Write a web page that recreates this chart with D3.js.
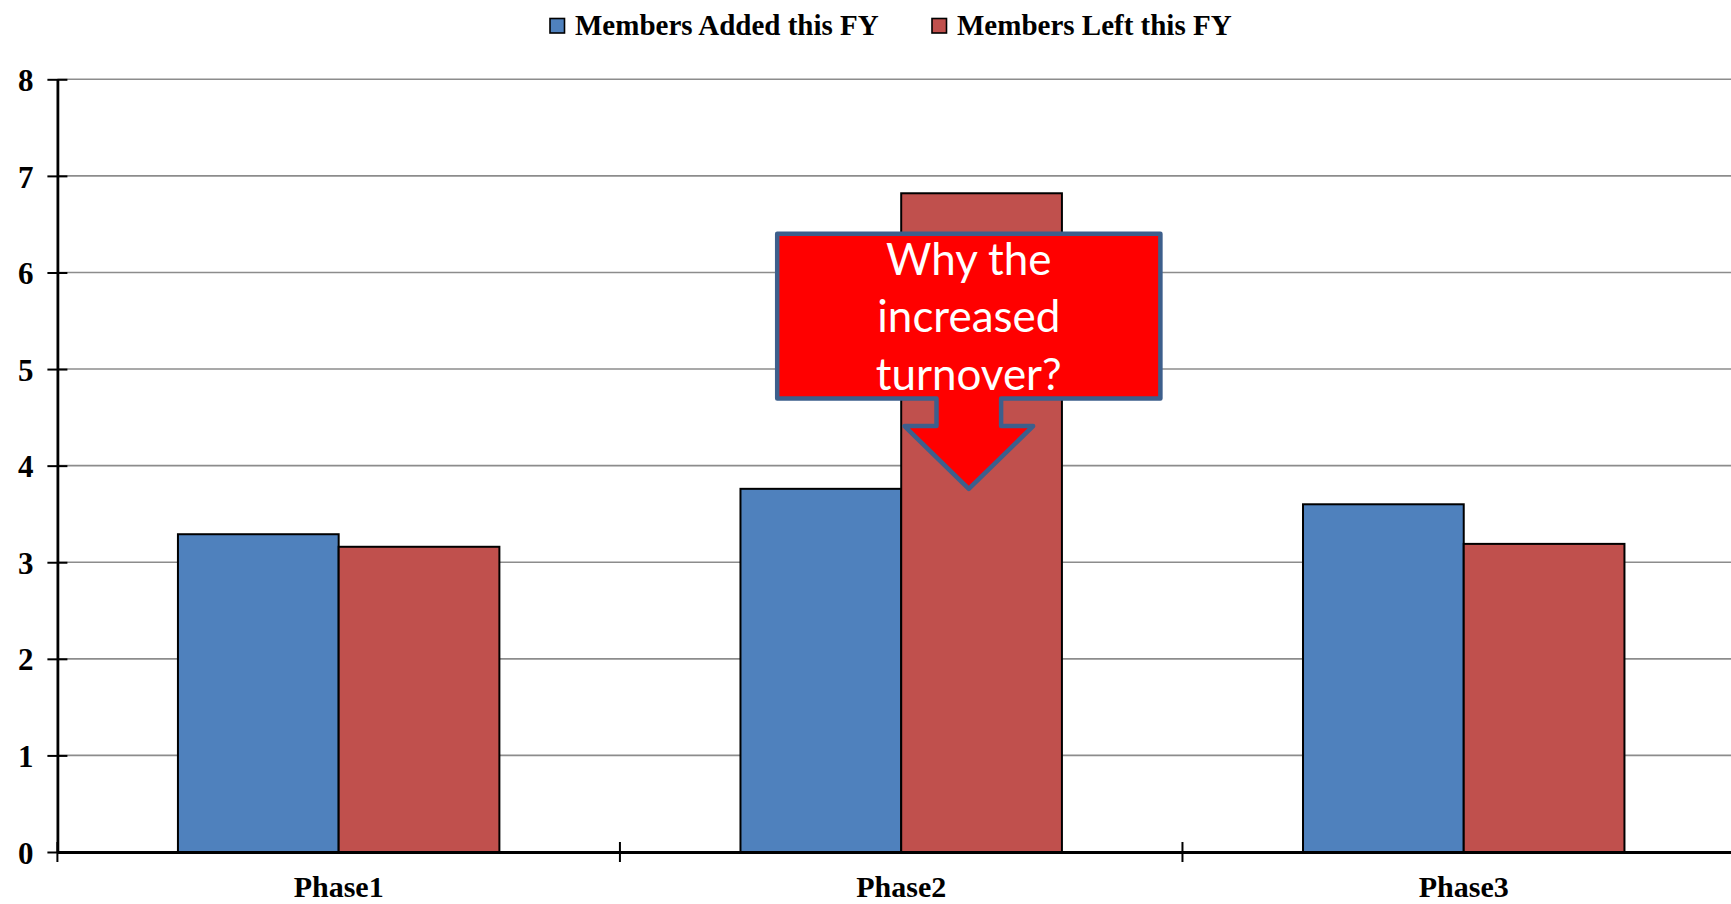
<!DOCTYPE html>
<html>
<head>
<meta charset="utf-8">
<script src="https://cdn.jsdelivr.net/npm/d3@7"></script>
<style>
  html, body { margin: 0; padding: 0; background: #ffffff; }
  svg { display: block; }
</style>
</head>
<body>
<div id="chart"></div>
<script>
// ---- data ----
const categories = ["Phase1", "Phase2", "Phase3"];
const seriesNames = ["Members Added this FY", "Members Left this FY"];
const addedValues = [3.29, 3.76, 3.60];
const leftValues = [3.16, 6.82, 3.19];
const yTickValues = [0, 1, 2, 3, 4, 5, 6, 7, 8];
const calloutLines = ["Why the", "increased", "turnover?"];
const seriesColors = ["#4f81bd", "#c0504d"];

// ---- layout ----
const W = 1731, H = 904;
const plotLeft = 57.4, plotRight = 1745, plotBottom = 852, plotTop = 79.3;

const svg = d3.select("#chart").append("svg")
  .attr("width", W).attr("height", H)
  .style("background", "#fff");

const x = d3.scaleBand().domain(categories).range([plotLeft, plotRight]).paddingInner(0).paddingOuter(0);
const xs = d3.scaleBand().domain(seriesNames).range([0, x.bandwidth()]).paddingInner(0).paddingOuter(0.75);
const y = d3.scaleLinear().domain([0, 8]).range([plotBottom, plotTop]);

const rows = categories.map((c, i) => ({ cat: c, vals: [addedValues[i], leftValues[i]] }));

// gridlines
svg.append("g").selectAll("line").data(yTickValues.filter(v => v > 0)).join("line")
  .attr("x1", plotLeft).attr("x2", W)
  .attr("y1", d => y(d)).attr("y2", d => y(d))
  .attr("stroke", "#8c8c8c").attr("stroke-width", 1.6);

// bars
const groups = svg.append("g").selectAll("g").data(rows).join("g")
  .attr("transform", d => `translate(${x(d.cat)},0)`);
groups.selectAll("rect").data(d => d.vals.map((v, j) => ({ v, s: seriesNames[j], j }))).join("rect")
  .attr("x", d => xs(d.s))
  .attr("width", xs.bandwidth())
  .attr("y", d => y(d.v))
  .attr("height", d => y(0) - y(d.v))
  .attr("fill", d => seriesColors[d.j])
  .attr("stroke", "#000").attr("stroke-width", 2);

// y axis
const yAxis = d3.axisLeft(y).tickValues(yTickValues).tickSize(10).tickSizeOuter(0).tickPadding(15)
  .tickFormat(d3.format("d"));
const gy = svg.append("g").attr("transform", `translate(${plotLeft},0)`).call(yAxis);
gy.select(".domain").attr("stroke", "#000").attr("stroke-width", 2.8);
gy.selectAll(".tick line").attr("x1", -10).attr("x2", 10).attr("stroke", "#000").attr("stroke-width", 2);
gy.selectAll(".tick text")
  .attr("font-family", "'Liberation Serif', 'Times New Roman', serif")
  .attr("font-weight", "bold").attr("font-size", 31).attr("fill", "#000")
  .attr("x", -24).attr("dy", "0.36em");

// x axis
const xAxis = d3.axisBottom(x).tickSize(0).tickSizeOuter(0);
const gx = svg.append("g").attr("transform", `translate(0,${plotBottom})`).call(xAxis);
gx.select(".domain").attr("stroke", "#000").attr("stroke-width", 2.8);
gx.selectAll(".tick text")
  .attr("font-family", "'Liberation Serif', 'Times New Roman', serif")
  .attr("font-weight", "bold").attr("font-size", 30).attr("fill", "#000")
  .attr("y", 45).attr("dy", 0);
// boundary ticks (crossing)
const boundaries = categories.map(c => x(c)).concat([x.range()[1]]);
gx.append("g").selectAll("line").data(boundaries).join("line")
  .attr("x1", d => d).attr("x2", d => d).attr("y1", -10).attr("y2", 10)
  .attr("stroke", "#000").attr("stroke-width", 2);

// ---- callout annotation ----
const cx = x("Phase2") + x.bandwidth() * 0.5 + 67.6;
const rectL = cx - 191.6, rectR = cx + 191.6;
const rectT = y(6.4), rectB = y(4.695);
const stemHalf = 32.3, headHalf = 64.3;
const headT = y(4.41), tipY = y(addedValues[1]);
const p = d3.path();
p.moveTo(rectL, rectT);
p.lineTo(rectR, rectT);
p.lineTo(rectR, rectB);
p.lineTo(cx + stemHalf, rectB);
p.lineTo(cx + stemHalf, headT);
p.lineTo(cx + headHalf, headT);
p.lineTo(cx, tipY);
p.lineTo(cx - headHalf, headT);
p.lineTo(cx - stemHalf, headT);
p.lineTo(cx - stemHalf, rectB);
p.lineTo(rectL, rectB);
p.closePath();
svg.append("path").attr("d", p.toString())
  .attr("fill", "#ff0000").attr("stroke", "#3d5f8c").attr("stroke-width", 4.5)
  .attr("stroke-linejoin", "round");

const ct = svg.append("g");
const baselines = [275, 331.7, 390];
const ctexts = ct.selectAll("text").data(calloutLines).join("text")
  .attr("x", cx).attr("y", (d, i) => baselines[i])
  .attr("text-anchor", "middle")
  .attr("font-family", "Lato, 'Open Sans', sans-serif")
  .attr("font-size", 47).attr("fill", "#fff")
  .text(d => d);
// fit font to the reference width of "increased" (~183px)
const measured = ctexts.filter((d, i) => i === 1).node().getComputedTextLength();
if (measured > 0) ctexts.attr("font-size", 47 * 183 / measured);

// ---- legend ----
const legendItems = [
  { name: seriesNames[0], color: seriesColors[0], sx: 550, tx: 575 },
  { name: seriesNames[1], color: seriesColors[1], sx: 932, tx: 957 }
];
const lg = svg.append("g");
lg.selectAll("rect").data(legendItems).join("rect")
  .attr("x", d => d.sx).attr("y", 18.5).attr("width", 14.5).attr("height", 14.5)
  .attr("fill", d => d.color).attr("stroke", "#000").attr("stroke-width", 1.6);
lg.selectAll("text").data(legendItems).join("text")
  .attr("x", d => d.tx).attr("y", 35)
  .attr("font-family", "'Liberation Serif', 'Times New Roman', serif")
  .attr("font-weight", "bold").attr("font-size", 29).attr("fill", "#000")
  .text(d => d.name);
</script>
</body>
</html>
